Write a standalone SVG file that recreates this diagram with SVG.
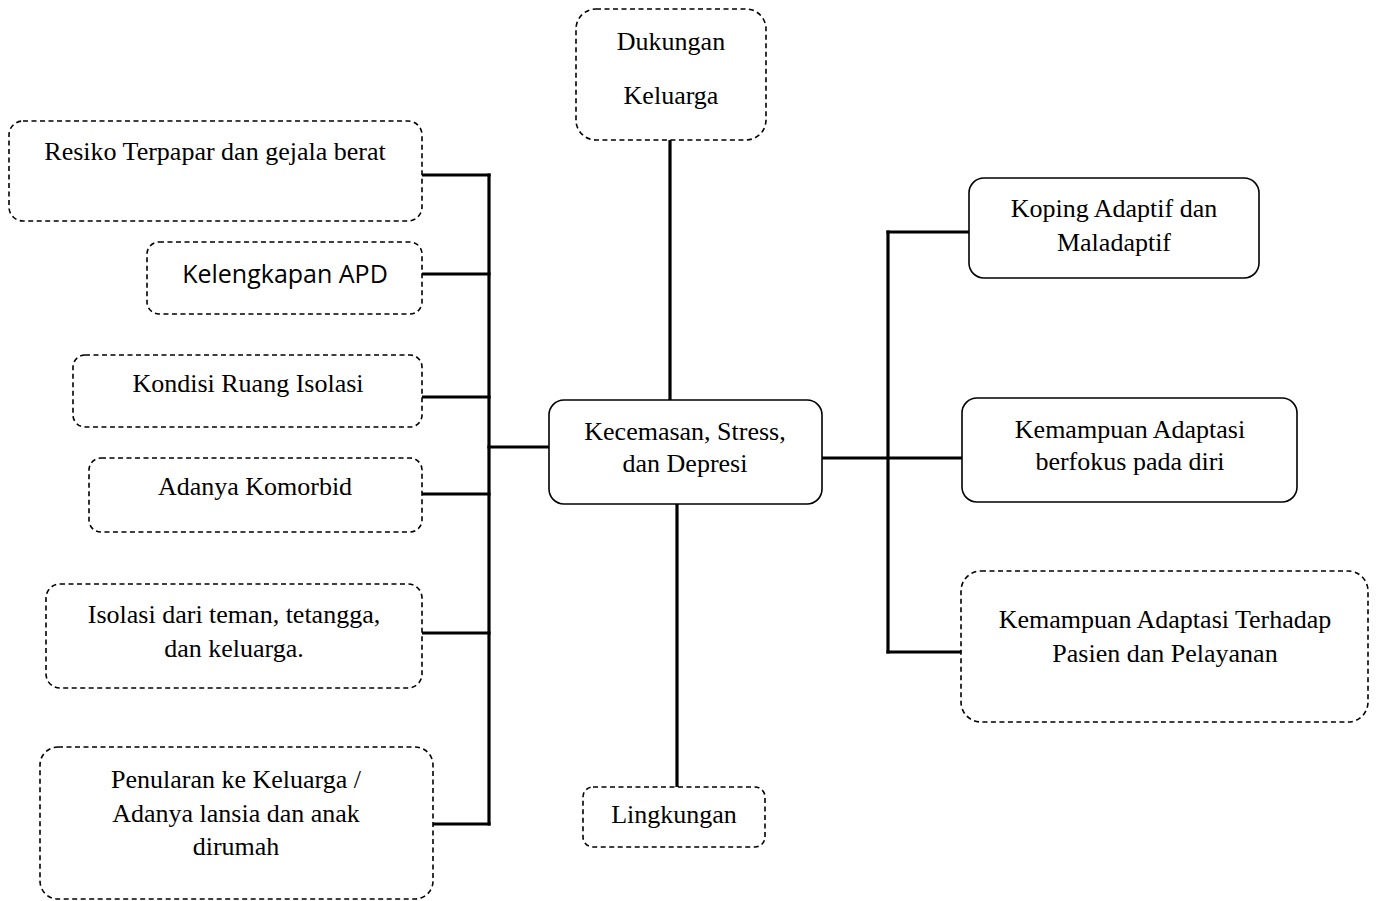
<svg xmlns="http://www.w3.org/2000/svg" width="1377" height="901" viewBox="0 0 1377 901">
<style>
.dash{fill:#fff;stroke:#000;stroke-width:1.6;stroke-dasharray:5 3.5}
.solid{fill:#fff;stroke:#000;stroke-width:1.6}
.t{font-family:"Liberation Serif","Times New Roman",serif;font-size:26px;fill:#000;text-anchor:middle}
.s{font-family:"Open Sans","Liberation Sans",sans-serif;font-size:25px;fill:#000;text-anchor:middle}
.c{stroke:#000;stroke-width:3.2;fill:none;stroke-linecap:square}
</style>
<rect width="1377" height="901" fill="#fff"/>
<g id="connectors">
<line class="c" x1="489" y1="175" x2="489" y2="824"/>
<line class="c" x1="423" y1="175" x2="489" y2="175"/>
<line class="c" x1="423" y1="274" x2="489" y2="274"/>
<line class="c" x1="423" y1="397" x2="489" y2="397"/>
<line class="c" x1="423" y1="494" x2="489" y2="494"/>
<line class="c" x1="423" y1="633" x2="489" y2="633"/>
<line class="c" x1="434" y1="824" x2="489" y2="824"/>
<line class="c" x1="489" y1="447" x2="549" y2="447"/>
<line class="c" x1="670" y1="141" x2="670" y2="400"/>
<line class="c" x1="677" y1="504" x2="677" y2="786"/>
<line class="c" x1="822" y1="458" x2="962" y2="458"/>
<line class="c" x1="888" y1="232" x2="888" y2="652"/>
<line class="c" x1="888" y1="232" x2="969" y2="232"/>
<line class="c" x1="888" y1="652" x2="961" y2="652"/>
</g>
<g id="resiko">
<rect class="dash" x="9" y="121" width="413" height="100" rx="14"/>
<text class="t" x="215" y="160">Resiko Terpapar dan gejala berat</text>
</g>
<g id="apd">
<rect class="dash" x="147" y="242" width="275" height="72" rx="12"/>
<text class="s" x="285" y="283">Kelengkapan APD</text>
</g>
<g id="kondisi">
<rect class="dash" x="73" y="355" width="349" height="72" rx="12"/>
<text class="t" x="248" y="392">Kondisi Ruang Isolasi</text>
</g>
<g id="komorbid">
<rect class="dash" x="89" y="458" width="333" height="74" rx="12"/>
<text class="t" x="255" y="495">Adanya Komorbid</text>
</g>
<g id="isolasi">
<rect class="dash" x="46" y="584" width="376" height="104" rx="14"/>
<text class="t" x="234" y="623">Isolasi dari teman, tetangga,</text>
<text class="t" x="234" y="657">dan keluarga.</text>
</g>
<g id="penularan">
<rect class="dash" x="40" y="747" width="393" height="152" rx="18"/>
<text class="t" x="236" y="788">Penularan ke Keluarga /</text>
<text class="t" x="236" y="822">Adanya lansia dan anak</text>
<text class="t" x="236" y="855">dirumah</text>
</g>
<g id="dukungan">
<rect class="dash" x="576" y="9" width="190" height="131" rx="20"/>
<text class="t" x="671" y="50">Dukungan</text>
<text class="t" x="671" y="104">Keluarga</text>
</g>
<g id="pusat">
<rect class="solid" x="549" y="400" width="273" height="104" rx="15"/>
<text class="t" x="685" y="440">Kecemasan, Stress,</text>
<text class="t" x="685" y="472">dan Depresi</text>
</g>
<g id="lingkungan">
<rect class="dash" x="583" y="787" width="182" height="60" rx="10"/>
<text class="t" x="674" y="823">Lingkungan</text>
</g>
<g id="koping">
<rect class="solid" x="969" y="178" width="290" height="100" rx="15"/>
<text class="t" x="1114" y="217">Koping Adaptif dan</text>
<text class="t" x="1114" y="251">Maladaptif</text>
</g>
<g id="diri">
<rect class="solid" x="962" y="398" width="335" height="104" rx="15"/>
<text class="t" x="1130" y="438">Kemampuan Adaptasi</text>
<text class="t" x="1130" y="470">berfokus pada diri</text>
</g>
<g id="pelayanan">
<rect class="dash" x="961" y="571" width="407" height="151" rx="20"/>
<text class="t" x="1165" y="628">Kemampuan Adaptasi Terhadap</text>
<text class="t" x="1165" y="662">Pasien dan Pelayanan</text>
</g>
</svg>
